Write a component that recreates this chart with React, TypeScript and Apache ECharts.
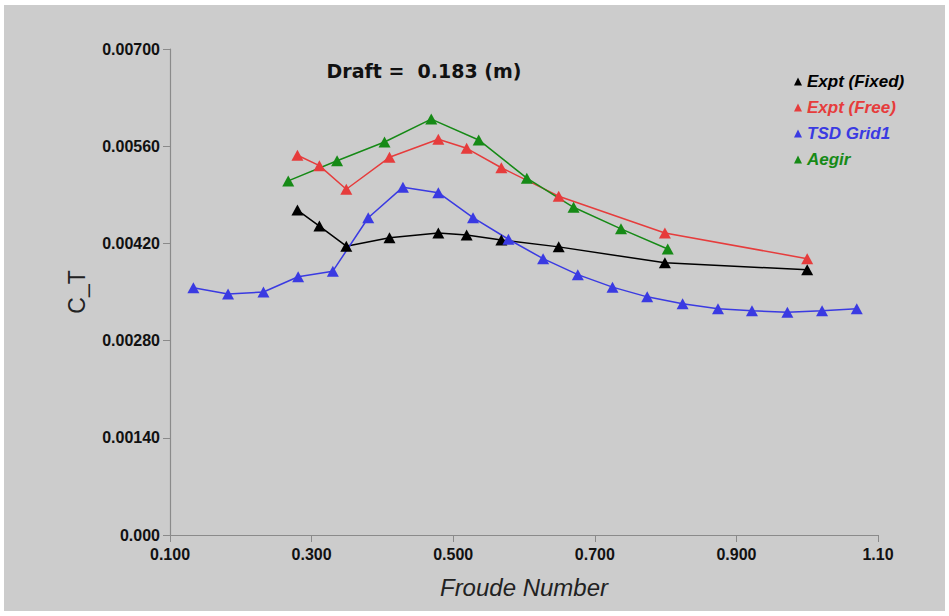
import React, { useEffect, useRef } from "react";
import * as echarts from "echarts";

const xTicks = { min: 0.1, max: 1.1, interval: 0.2 };
const yTicks = { min: 0, max: 0.007, interval: 0.0014 };

const seriesNames = ["Expt (Fixed)", "Expt (Free)", "TSD Grid1", "Aegir"];
const seriesColors = ["#000000", "#e63c3c", "#3a3ae2", "#168a16"];

const exptFixed: [number, number][] = [
  [0.28, 0.00468], [0.311, 0.00445], [0.349, 0.00416], [0.41, 0.00428],
  [0.479, 0.00435], [0.519, 0.00432], [0.568, 0.00425], [0.649, 0.00415],
  [0.799, 0.00392], [1.0, 0.00382],
];
const exptFree: [number, number][] = [
  [0.28, 0.00547], [0.311, 0.00532], [0.349, 0.00498], [0.41, 0.00544],
  [0.479, 0.0057], [0.519, 0.00557], [0.568, 0.00529], [0.649, 0.00488],
  [0.799, 0.00435], [1.0, 0.00398],
];
const tsdGrid1: [number, number][] = [
  [0.133, 0.00356], [0.182, 0.00347], [0.232, 0.0035], [0.281, 0.00372],
  [0.33, 0.0038], [0.38, 0.00457], [0.429, 0.00501], [0.479, 0.00493],
  [0.528, 0.00457], [0.578, 0.00426], [0.627, 0.00398], [0.676, 0.00375],
  [0.725, 0.00357], [0.774, 0.00343], [0.824, 0.00333], [0.874, 0.00326],
  [0.922, 0.00323], [0.972, 0.00321], [1.021, 0.00323], [1.07, 0.00326],
];
const aegir: [number, number][] = [
  [0.267, 0.0051], [0.336, 0.00539], [0.403, 0.00566], [0.469, 0.00599],
  [0.536, 0.00569], [0.604, 0.00514], [0.67, 0.00472], [0.737, 0.00441],
  [0.803, 0.00412],
];
const seriesData = [exptFixed, exptFree, tsdGrid1, aegir];

const titleText = "Draft =  0.183 (m)";
const xName = "Froude Number";
const yName = "C_T";

export default function App() {
  const ref = useRef<HTMLDivElement>(null);
  useEffect(() => {
    if (!ref.current) return;
    const chart = echarts.init(ref.current, undefined, { renderer: "svg" });
    const tickFont = {
      fontFamily: "Liberation Sans",
      fontWeight: "bold" as const,
      fontSize: 16,
      color: "#111",
    };
    chart.setOption({
      animation: false,
      backgroundColor: "#cccccc",
      grid: { left: 166, top: 44, right: 67, bottom: 76 },
      graphic: [
        {
          type: "text",
          x: 420,
          y: 66,
          style: {
            text: titleText,
            fontFamily: "DejaVu Sans",
            fontWeight: "bold",
            fontSize: 19,
            fill: "#111",
            textAlign: "center",
            textVerticalAlign: "middle",
          },
        },
      ],
      legend: {
        orient: "vertical",
        left: 785,
        top: 63,
        icon: "triangle",
        itemWidth: 8,
        itemHeight: 8,
        itemGap: 9,
        textStyle: {
          fontFamily: "Liberation Sans",
          fontStyle: "italic",
          fontWeight: "bold",
          fontSize: 17,
          lineHeight: 17,
        },
        data: seriesNames.map((n, i) => ({
          name: n,
          textStyle: { color: seriesColors[i] },
        })),
      },
      xAxis: {
        type: "value",
        min: xTicks.min,
        max: xTicks.max,
        interval: xTicks.interval,
        name: xName,
        nameLocation: "middle",
        nameGap: 40,
        nameTextStyle: {
          fontFamily: "Liberation Sans",
          fontStyle: "italic",
          fontSize: 24,
          color: "#222",
        },
        axisLine: { lineStyle: { color: "#8a8a8a", width: 1.2 } },
        axisTick: { show: true, length: 7, lineStyle: { color: "#8a8a8a" } },
        splitLine: { show: false },
        axisLabel: {
          ...tickFont,
          margin: 11,
          formatter: (v: number) => (v >= 1 ? v.toFixed(2) : v.toFixed(3)),
        },
      },
      yAxis: {
        type: "value",
        min: yTicks.min,
        max: yTicks.max,
        interval: yTicks.interval,
        name: yName,
        nameLocation: "middle",
        nameGap: 82,
        nameTextStyle: {
          fontFamily: "Liberation Sans",
          fontSize: 23,
          color: "#222",
        },
        axisLine: { show: true, lineStyle: { color: "#8a8a8a", width: 1.2 } },
        axisTick: { show: true, length: 7, lineStyle: { color: "#8a8a8a" } },
        splitLine: { show: false },
        axisLabel: {
          ...tickFont,
          margin: 10,
          formatter: (v: number) => (v === 0 ? "0.000" : v.toFixed(5)),
        },
      },
      series: seriesNames.map((n, i) => ({
        name: n,
        type: "line",
        data: seriesData[i],
        symbol: "triangle",
        symbolSize: [12, 11],
        color: seriesColors[i],
        lineStyle: { width: 1.5, color: seriesColors[i] },
        itemStyle: { color: seriesColors[i] },
      })),
    });
    return () => chart.dispose();
  }, []);
  return (
    <div
      style={{
        position: "fixed",
        left: 0,
        top: 0,
        width: 949,
        height: 616,
        background: "#ffffff",
      }}
    >
      <div
        ref={ref}
        style={{ position: "absolute", left: 4, top: 5, width: 941, height: 606 }}
      />
    </div>
  );
}
